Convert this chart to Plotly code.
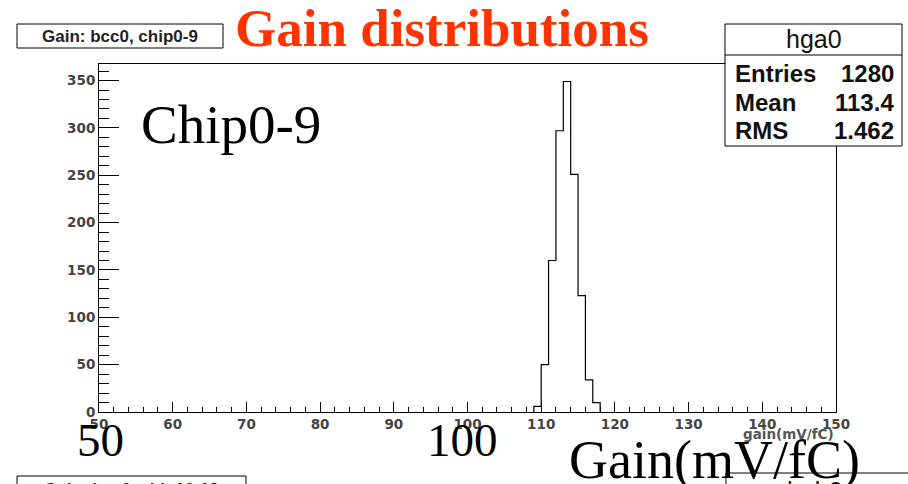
import plotly.graph_objects as go

# ---- data ----
bin_edges = [109, 110, 111, 112, 113, 114, 115, 116, 117, 118]
bin_counts = [6, 50, 160, 297, 349, 251, 123, 34, 10]
x_ticks = [50, 60, 70, 80, 90, 100, 110, 120, 130, 140, 150]
y_ticks = [0, 50, 100, 150, 200, 250, 300, 350]
stats_labels = ["Entries", "Mean", "RMS"]
stats_values = ["1280", "113.4", "1.462"]

W, H = 908, 484
L, R, T, B = 99, 836, 64, 412


def px(x):
    return (x - L) / (R - L)


def py(y):
    return (B - y) / (B - T)


# step outline like a ROOT histogram
xs = [bin_edges[0]] + bin_edges
ys = [0] + bin_counts + [0]

fig = go.Figure()
fig.add_trace(go.Scatter(x=xs, y=ys, mode="lines", line=dict(color="black", width=1.2, shape="hv"),
                         hoverinfo="skip", showlegend=False))

tickfont = dict(family="DejaVu Sans", size=13.5, color="#444", weight="bold")

fig.update_layout(
    width=W, height=H,
    margin=dict(l=L, r=W - R, t=T, b=H - B),
    paper_bgcolor="white", plot_bgcolor="white",
    xaxis=dict(range=[50, 150], tickvals=x_ticks, ticks="inside", ticklen=10, tickwidth=1,
               tickcolor="black", showline=True, linecolor="black", linewidth=1, mirror=True,
               showgrid=False, zeroline=False, tickfont=tickfont,
               minor=dict(ticks="inside", ticklen=5, dtick=2, tickcolor="black", showgrid=False)),
    yaxis=dict(range=[0, 367.5], tickvals=y_ticks, ticks="inside", ticklen=20, tickwidth=1,
               tickcolor="black", showline=True, linecolor="black", linewidth=1, mirror=True,
               showgrid=False, zeroline=False, tickfont=tickfont,
               minor=dict(ticks="inside", ticklen=10, dtick=10, tickcolor="black", showgrid=False)),
)

shapes = []
annots = []


def rect(x0, y0, x1, y1):
    shapes.append(dict(type="rect", xref="paper", yref="paper", x0=px(x0), x1=px(x1), y0=py(y1), y1=py(y0),
                       line=dict(color="black", width=1), fillcolor="white", layer="above"))


def line(x0, y0, x1, y1):
    shapes.append(dict(type="line", xref="paper", yref="paper", x0=px(x0), x1=px(x1), y0=py(y0), y1=py(y1),
                       line=dict(color="black", width=1), layer="above"))


def text(t, x, y, size, family="Liberation Sans", color="black", weight="normal", xanchor="center"):
    annots.append(dict(text=t, x=px(x), y=py(y), xref="paper", yref="paper", showarrow=False,
                       xanchor=xanchor, yanchor="middle",
                       font=dict(family=family, size=size, color=color, weight=weight)))


# histogram title box
rect(17, 24, 223, 48)
text("Gain: bcc0, chip0-9", 120, 36, 17, color="#222", weight="bold")

# stats box
rect(725, 24, 902, 146)
line(725, 55, 902, 55)
text("hga0", 814, 39, 25, color="#111")
rows_y = [73, 102, 130]
for lab, val, yy in zip(stats_labels, stats_values, rows_y):
    text(lab, 733, yy, 24, weight="bold", xanchor="left", color="#111")
    text(val, 896, yy, 24, weight="bold", xanchor="right", color="#111")

# axis title
text("gain(mV/fC)", 836, 434, 13.5, family="DejaVu Sans", color="#555", weight="bold", xanchor="right")

# bottom (cropped) boxes from the next panel
rect(17, 476, 246, 510)
text("Gain: bcc0, chip10-19", 131, 489, 17, color="#222", weight="bold")
rect(726, 473, 940, 520)
text("hgb0", 815, 491, 25, color="#111")

# overlay slide texts
serif = "Liberation Serif"
text("Gain distributions", 442, 28, 53, family=serif, color="#FF3300", weight="bold")
text("Chip0-9", 231, 124, 55, family=serif)
text("50", 100, 440, 47, family=serif)
text("100", 462, 440, 47, family=serif)
text("Gain(mV/fC)", 714, 460, 54, family=serif)

fig.update_layout(shapes=shapes, annotations=annots)
fig.write_html("out.html")
